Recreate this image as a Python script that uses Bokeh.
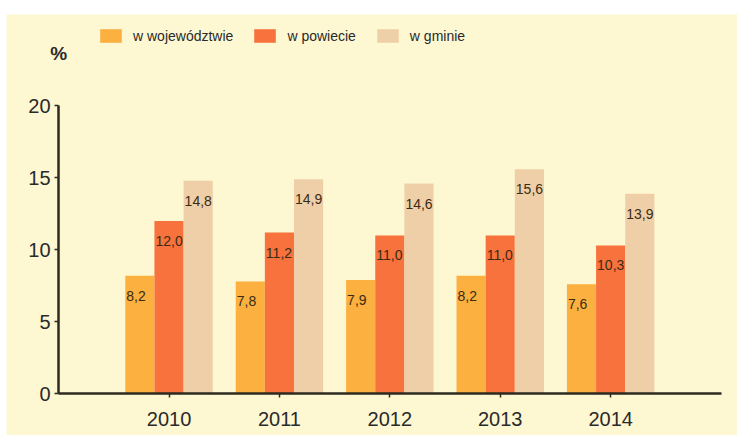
from bokeh.plotting import figure
from bokeh.models import ColumnDataSource, Range1d, FixedTicker, Legend, LegendItem, Label, Spacer
from bokeh.layouts import column, row
from bokeh.core.properties import value
from bokeh.embed import file_html
from bokeh.resources import INLINE

years = ["2010", "2011", "2012", "2013", "2014"]
wojewodztwo = [8.2, 7.8, 7.9, 8.2, 7.6]
powiat = [12.0, 11.2, 11.0, 11.0, 10.3]
gmina = [14.8, 14.9, 14.6, 15.6, 13.9]
series_names = ["w województwie", "w powiecie", "w gminie"]
y_ticks = [0, 5, 10, 15, 20]

colors = ["#FBB03F", "#F7723D", "#EFCFA7"]
bg = "#FDF8D2"
bar_w = 0.264
FONT = "Liberation Sans"

p = figure(width=731, height=421, output_backend="svg", toolbar_location=None,
           x_range=Range1d(-1.472, 5.149), y_range=Range1d(-2.896, 26.34),
           min_border=0)
p.background_fill_color = bg
p.border_fill_color = bg
p.outline_line_color = None
p.grid.grid_line_color = None

renderers = []
for k, (vals, col) in enumerate(zip([wojewodztwo, powiat, gmina], colors)):
    xs = [i + (k - 1) * bar_w for i in range(len(years))]
    src = ColumnDataSource(dict(x=xs, top=vals,
                                lx=[x - bar_w / 2 for x in xs],
                                txt=[f"{v:.1f}".replace(".", ",") for v in vals]))
    r = p.vbar(x="x", top="top", width=bar_w, bottom=0, source=src,
               fill_color=col, line_color=None)
    p.text(x="lx", y="top", text="txt", source=src, x_offset=1, y_offset=20,
           text_font=value(FONT), text_font_size="14px", text_color="#3a2c14",
           text_baseline="middle", text_align="left")
    renderers.append(r)

for ax in (p.xaxis[0], p.yaxis[0]):
    ax.axis_line_color = "#2d2a20"
    ax.axis_line_width = 2.5
    ax.major_tick_line_color = "#2d2a20"
    ax.major_tick_line_width = 1.5
    ax.major_tick_in = 0
    ax.major_tick_out = 4
    ax.minor_tick_line_color = None
    ax.major_label_text_font = FONT
    ax.major_label_text_font_size = "20px"
    ax.major_label_text_color = "#2a2a2a"

p.xaxis.ticker = FixedTicker(ticks=list(range(len(years))))
p.xaxis.major_label_overrides = {i: y for i, y in enumerate(years)}
p.xaxis.major_label_standoff = 14
p.xaxis.fixed_location = 0
p.xaxis.bounds = (-1, 5)
p.yaxis.ticker = FixedTicker(ticks=y_ticks)
p.yaxis.major_label_standoff = 4
p.yaxis.fixed_location = -1
p.yaxis.bounds = (0, 20)

legend = Legend(items=[LegendItem(label=n, renderers=[r]) for n, r in zip(series_names, renderers)],
                orientation="horizontal", location=(91, 391),
                background_fill_alpha=0, border_line_color=None,
                padding=0, margin=0, spacing=18, label_standoff=9,
                glyph_width=27, glyph_height=17,
                label_text_font=FONT, label_text_font_size="14px", label_text_color="#2a2a2a")
p.add_layout(legend, "center")

pct = Label(x=-1.0, y=20, text="%", x_offset=0, y_offset=52, text_align="center",
            text_baseline="middle", text_font=FONT, text_font_size="19px",
            text_font_style="bold", text_color="#2a2a2a")
p.add_layout(pct)

layout = column(Spacer(height=14), row(Spacer(width=6), p))
open("out.html", "w").write(file_html(layout, INLINE))
